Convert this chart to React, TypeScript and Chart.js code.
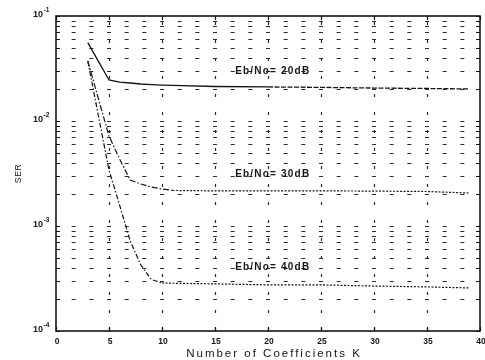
import React, { useEffect, useRef } from 'react';
import { Chart, registerables } from 'chart.js';

Chart.register(...registerables);

// ---- data ----
const coefficientsK = [3, 4, 5, 6, 7, 8, 9, 10, 11, 15, 20, 25, 30, 35, 39];
const ser20dB = [0.0557, 0.037, 0.0246, 0.0235, 0.023, 0.0225, 0.0222, 0.022, 0.0218, 0.0213, 0.0211, 0.0209, 0.0206, 0.0204, 0.0202];
const ser30dB = [0.0373, 0.0163, 0.0072, 0.00435, 0.00274, 0.00251, 0.00235, 0.00225, 0.00218, 0.00216, 0.00216, 0.00216, 0.00215, 0.00213, 0.00206];
const ser40dB = [0.0373, 0.0112, 0.00341, 0.00158, 0.00072, 0.000425, 0.000309, 0.000287, 0.000285, 0.000281, 0.000275, 0.000275, 0.000268, 0.000263, 0.000257];
const seriesLabels = ['Eb/No= 20dB', 'Eb/No= 30dB', 'Eb/No= 40dB'];
const xTickValues = [0, 5, 10, 15, 20, 25, 30, 35, 40];
const yDecadeExponents = [-1, -2, -3, -4];
const xTitle = 'Number of Coefficients K';
const yTitle = 'SER';

// label anchor points (K, SER) for the in-plot annotations
const labelAnchorK = 16.9;
const labelAnchorSER = [0.0299, 0.00313, 0.000407];

const INK = '#151515';

const toPoints = (vals: number[]) => coefficientsK.map((k, i) => ({ x: k, y: vals[i] }));

const minorValues: number[] = [];
for (let e = -4; e <= -2; e++) {
  for (let m = 1; m <= 9; m++) minorValues.push(m * Math.pow(10, e));
}
minorValues.push(0.1);

const matlabPlugin = {
  id: 'matlabLook',
  beforeDatasetsDraw(chart: any) {
    const { ctx, chartArea: a, scales } = chart;
    const xs = scales.x;
    const ys = scales.y;
    ctx.save();
    ctx.strokeStyle = '#2a2a2a';
    ctx.lineWidth = 1.2;
    // horizontal dotted grid lines at every log tick
    for (const v of minorValues) {
      if (v <= 1e-4 * 1.0001 || v >= 0.1 * 0.9999) continue;
      const y = Math.round(ys.getPixelForValue(v)) + 0.5;
      ctx.beginPath();
      for (let j = 1; j < 24; j++) {
        const x = xs.getPixelForValue((j * 5) / 3);
        ctx.moveTo(x - 2, y);
        ctx.lineTo(x + 2, y);
      }
      ctx.stroke();
    }
    // vertical dotted grid lines
    ctx.setLineDash([3, 15]);
    for (const k of xTickValues) {
      if (k === 0 || k === 40) continue;
      const x = Math.round(xs.getPixelForValue(k)) + 0.5;
      ctx.beginPath();
      ctx.moveTo(x, a.bottom);
      ctx.lineTo(x, a.top);
      ctx.stroke();
    }
    ctx.restore();
  },
  afterDatasetsDraw(chart: any) {
    const { ctx, chartArea: a, scales } = chart;
    const xs = scales.x;
    const ys = scales.y;
    ctx.save();
    // frame
    ctx.strokeStyle = INK;
    ctx.lineWidth = 1.6;
    ctx.strokeRect(a.left, a.top, a.right - a.left, a.bottom - a.top);
    // y ticks (inward, left and right)
    ctx.lineWidth = 1.2;
    ctx.beginPath();
    for (const v of minorValues) {
      const y = Math.round(ys.getPixelForValue(v)) + 0.5;
      ctx.moveTo(a.left, y);
      ctx.lineTo(a.left + 4, y);
      ctx.moveTo(a.right, y);
      ctx.lineTo(a.right - 4, y);
    }
    // x ticks (inward, bottom and top)
    for (const k of xTickValues) {
      const x = Math.round(xs.getPixelForValue(k)) + 0.5;
      ctx.moveTo(x, a.bottom);
      ctx.lineTo(x, a.bottom - 4);
      ctx.moveTo(x, a.top);
      ctx.lineTo(x, a.top + 4);
    }
    ctx.stroke();

    ctx.fillStyle = INK;
    // y tick labels 10^e
    for (const e of yDecadeExponents) {
      const y = ys.getPixelForValue(Math.pow(10, e)) - 1.5;
      ctx.font = 'bold 9px "Liberation Sans", Arial, sans-serif';
      ctx.textAlign = 'right';
      ctx.textBaseline = 'middle';
      ctx.fillText('10', a.left - 13, y);
      ctx.font = 'bold 6.5px "Liberation Sans", Arial, sans-serif';
      ctx.textAlign = 'left';
      ctx.fillText(String(e), a.left - 12.5, y - 4);
    }
    // x tick labels
    ctx.font = 'bold 8.5px "Liberation Sans", Arial, sans-serif';
    ctx.textAlign = 'center';
    ctx.textBaseline = 'middle';
    for (const k of xTickValues) {
      ctx.fillText(String(k), xs.getPixelForValue(k) + 1, a.bottom + 11);
    }
    // x title
    ctx.font = '11.5px "Liberation Sans", Arial, sans-serif';
    (ctx as any).letterSpacing = '2px';
    ctx.textBaseline = 'alphabetic';
    ctx.fillText(xTitle, (a.left + a.right) / 2 + 6, a.bottom + 25.5);
    // y title
    (ctx as any).letterSpacing = '0.6px';
    ctx.font = '8.5px "Liberation Sans", Arial, sans-serif';
    ctx.save();
    ctx.translate(19, (a.top + a.bottom) / 2);
    ctx.rotate(-Math.PI / 2);
    ctx.textBaseline = 'middle';
    ctx.fillText(yTitle, 0, 0);
    ctx.restore();
    // curve labels
    (ctx as any).letterSpacing = '1.2px';
    ctx.font = 'bold 10px "Liberation Sans", Arial, sans-serif';
    ctx.textAlign = 'left';
    ctx.textBaseline = 'middle';
    seriesLabels.forEach((t, i) => {
      ctx.fillText(t, xs.getPixelForValue(labelAnchorK), ys.getPixelForValue(labelAnchorSER[i]));
    });
    ctx.restore();
  },
};

export default function App() {
  const ref = useRef<HTMLCanvasElement | null>(null);
  useEffect(() => {
    if (!ref.current) return;
    const chart = new Chart(ref.current, {
      type: 'line',
      data: {
        datasets: [
          {
            label: seriesLabels[0],
            data: toPoints(ser20dB),
            borderColor: INK,
            borderWidth: 1.3,
            pointRadius: 0,
            tension: 0,
            segment: { borderDash: (c: any) => (c.p0.parsed.x >= 20 ? [5, 1.5] : []) },
          },
          {
            label: seriesLabels[1],
            data: toPoints(ser30dB),
            borderColor: INK,
            borderWidth: 1.2,
            pointRadius: 0,
            tension: 0,
            segment: { borderDash: (c: any) => (c.p0.parsed.x >= 11 ? [2, 1.5] : [6, 2, 1.5, 2]) },
          },
          {
            label: seriesLabels[2],
            data: toPoints(ser40dB),
            borderColor: INK,
            borderWidth: 1.2,
            pointRadius: 0,
            tension: 0,
            segment: { borderDash: (c: any) => (c.p0.parsed.x >= 10 ? [2, 1.5] : [5, 2, 1.5, 2]) },
          },
        ],
      },
      options: {
        animation: false,
        responsive: true,
        maintainAspectRatio: false,
        layout: { padding: { left: 56, top: 16, right: 5, bottom: 29 } },
        plugins: { legend: { display: false }, tooltip: { enabled: false } },
        scales: {
          x: { type: 'linear', min: 0, max: 40, display: false },
          y: { type: 'logarithmic', min: 1e-4, max: 1e-1, display: false },
        },
      },
      plugins: [matlabPlugin],
    });
    return () => chart.destroy();
  }, []);
  return (
    <div style={{ position: 'absolute', left: 0, top: 0, width: 485, height: 360 }}>
      <canvas ref={ref} />
    </div>
  );
}
